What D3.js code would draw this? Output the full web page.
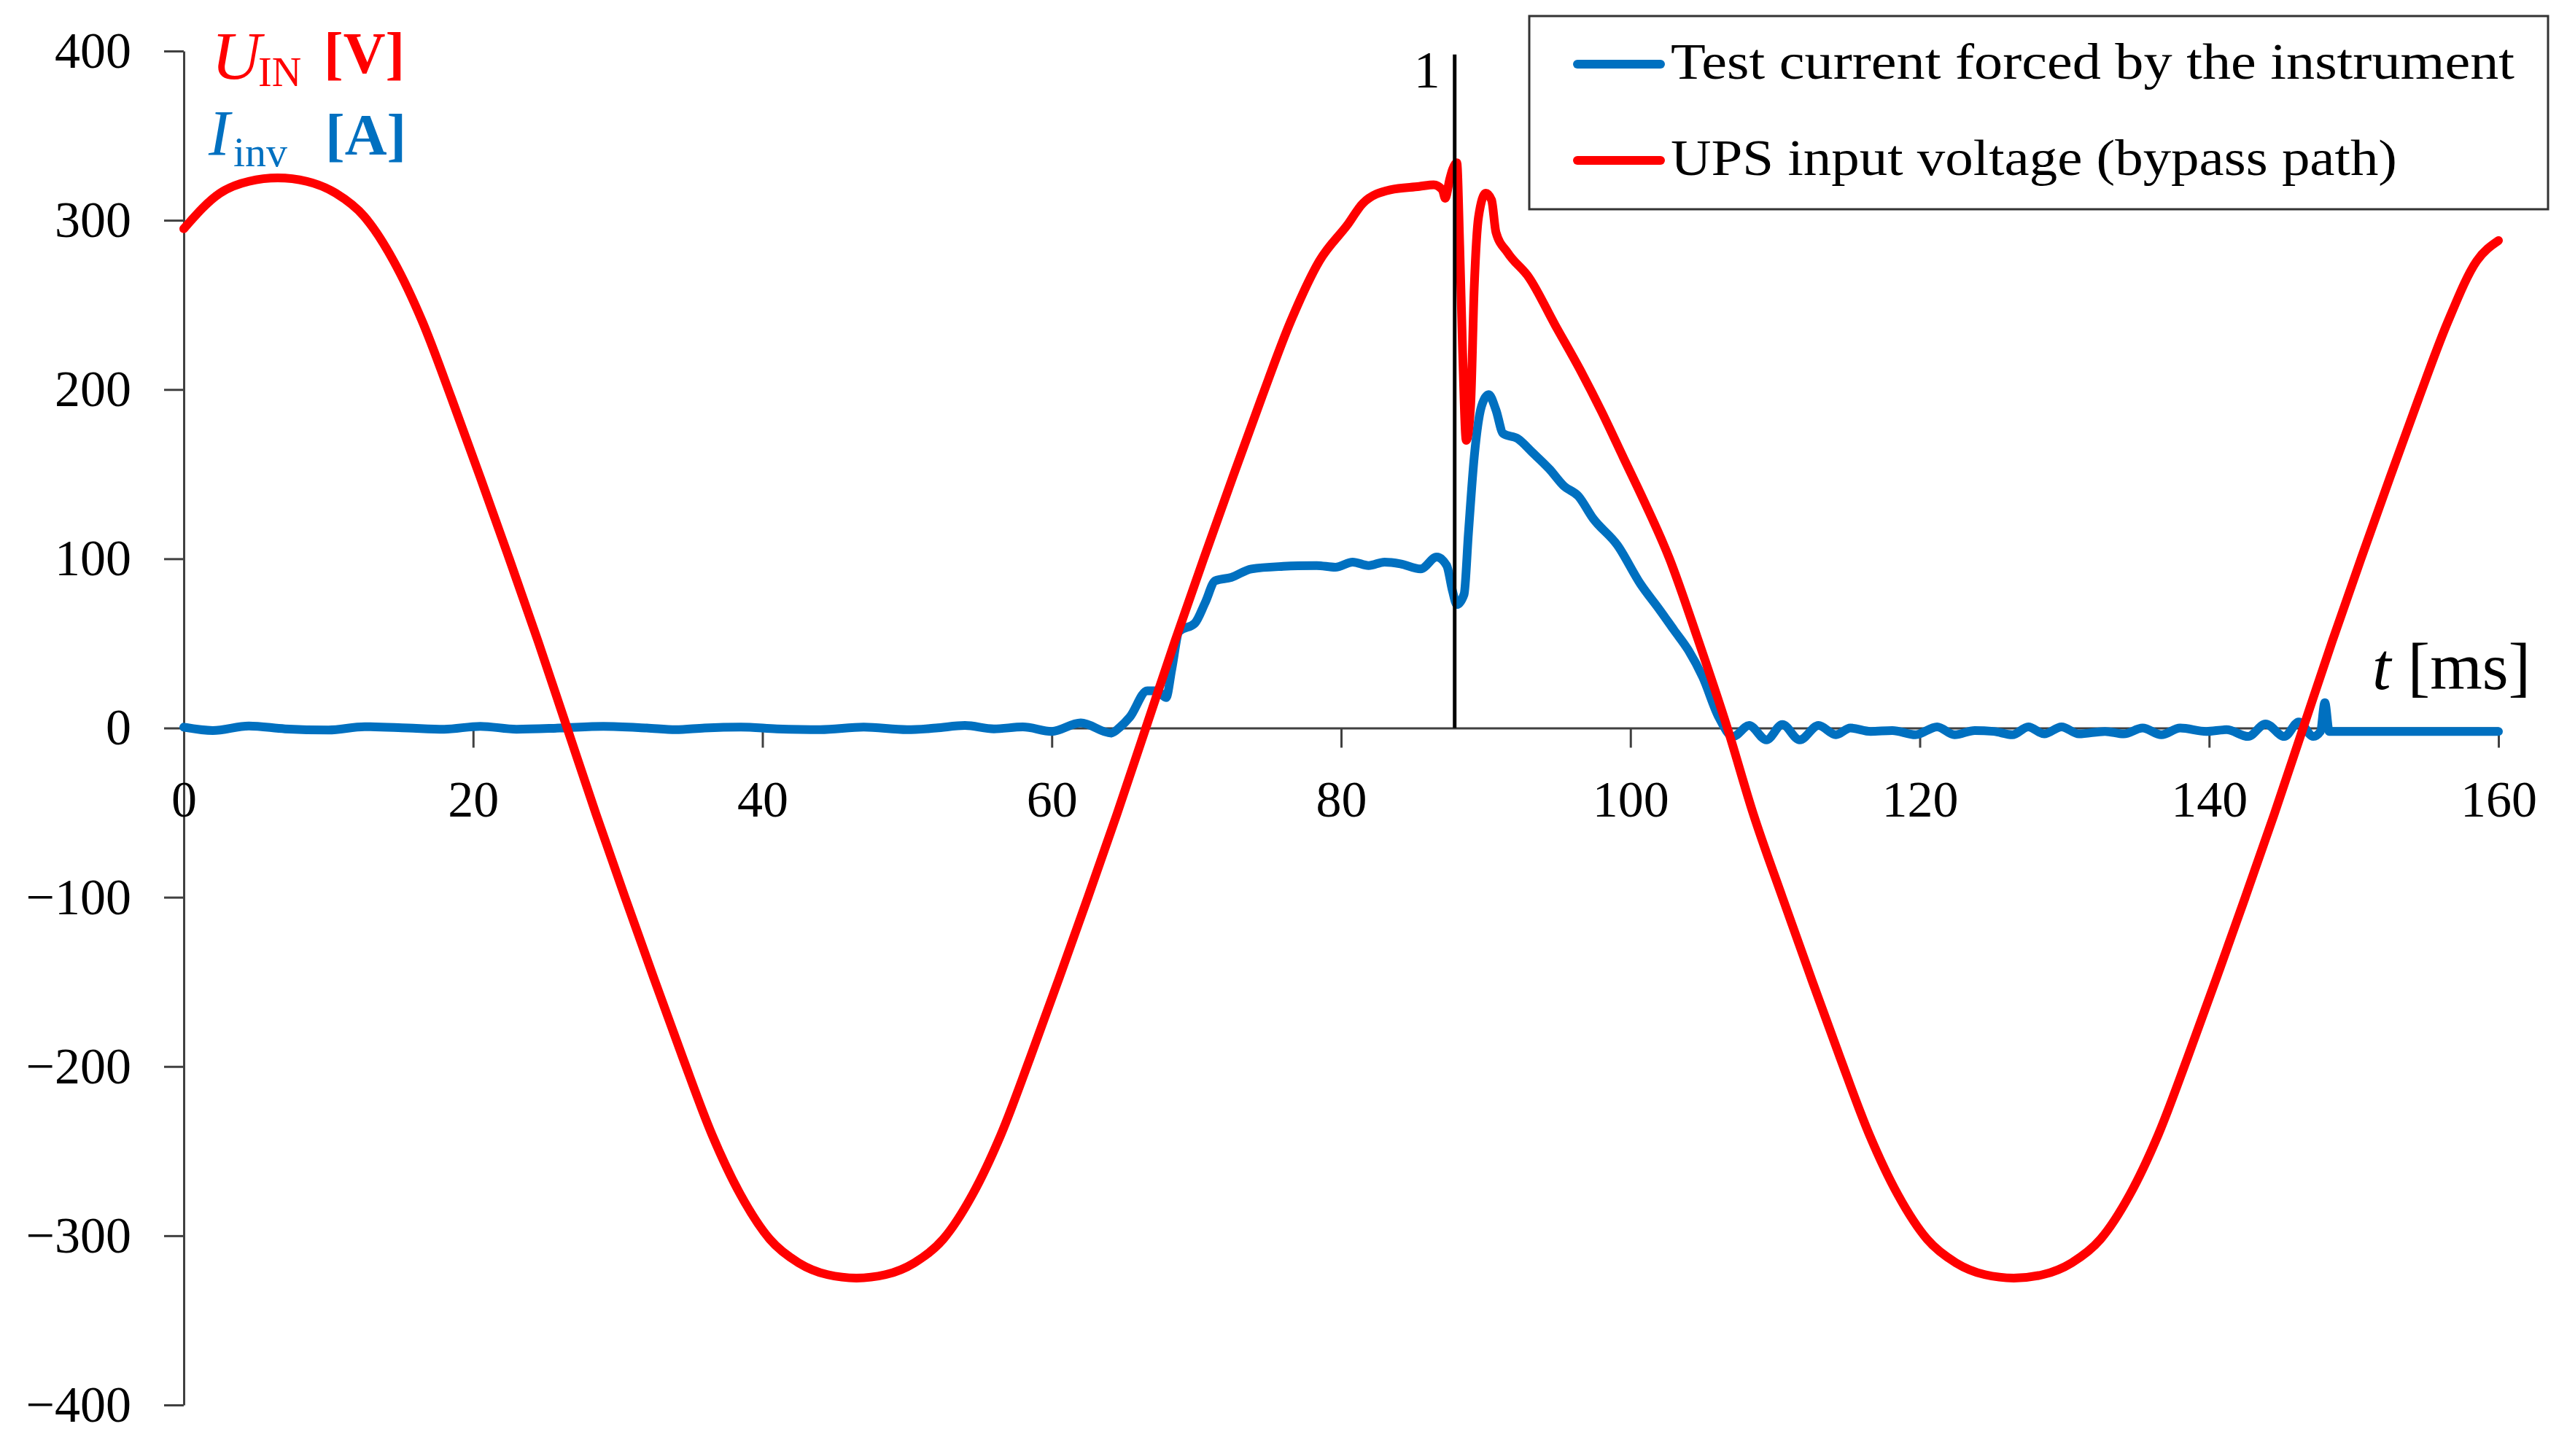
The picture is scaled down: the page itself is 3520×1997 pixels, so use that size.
<!DOCTYPE html>
<html>
<head>
<meta charset="utf-8">
<script src="https://cdn.jsdelivr.net/npm/d3@7"></script>
<style>
  html, body { margin: 0; padding: 0; background: #fff; }
  svg { display: block; }
  text { font-family: "Liberation Serif", "Times New Roman", serif; }
</style>
</head>
<body>
<svg id="chart" width="3520" height="1997"></svg>
<script>
// ---------------- data ----------------
// UPS input voltage U_IN [V]
const uinT = [0, 2.5, 4.5, 6.5, 8.5, 10.5, 12.5, 14.5, 16.5, 18.5, 20.5, 22.5, 24.5, 26.5, 28.5, 30.5,
  32.5, 34.5, 36.5, 38.5, 40.5, 42.5, 44.5, 46.5, 48.5, 50.5, 52.5, 54.5, 56.5, 58.5, 60.5, 62.5, 64.5,
  66.5, 68.5, 70.5, 72.5, 74.5, 76.5, 78.5, 80.5, 81.5, 83.4, 85.4, 86.4, 87.0, 87.2, 87.5, 87.7, 88.0,
  88.2, 88.4, 88.65, 88.95, 89.2, 89.5, 90.0, 90.4, 90.7, 91.5, 93.0, 94.8, 96.5, 98.0, 99.5,
  101.0, 102.7, 104.6, 106.7, 108.5, 110.5, 112.5, 114.5, 116.5, 118.5, 120.5, 122.5, 124.5, 126.5,
  128.5, 130.5, 132.5, 134.5, 136.5, 138.5, 140.5, 142.5, 144.5, 146.5, 148.5, 150.5, 152.5, 154.5,
  156.5, 158.5, 160];
const uinV = [295, 316, 323, 325, 323, 316, 302, 276, 240, 195, 148, 100, 51, 0, -51, -100,
  -148, -195, -240, -276, -302, -316, -323, -325, -323, -316, -302, -276, -240, -195, -148, -100, -51,
  0, 51, 100, 148, 195, 240, 276, 298, 310, 318, 320, 321, 318, 313, 324, 330, 334,
  285, 222, 170, 190, 260, 302, 316, 312, 293, 281, 266, 238, 212, 187, 160,
  133, 100, 54, 0, -51, -100, -148, -195, -240, -276, -302, -316, -323, -325,
  -323, -316, -302, -276, -240, -195, -148, -100, -51, 0, 51, 100, 148, 195,
  240, 276, 288];

// Test current forced by the instrument I_inv [A]
const invT = [0, 2, 4.5, 7, 10, 12.5, 15.5, 18, 20.5, 23, 26, 29, 32, 34, 36, 38.5, 41, 44, 47, 50, 52,
  54, 56, 58, 60, 62, 64.1, 64.7, 65.4, 66.6, 67.3, 67.9, 68.3, 68.8, 69.9, 70.6, 71.3, 72.4, 73.8, 76,
  78.3, 79.6, 80.8, 81.9, 83, 84.1, 85.5, 86.6, 87.3, 87.7, 88.0, 88.5, 88.8, 89.2, 89.7, 90.2, 90.7,
  91.2, 92.2, 93.2, 94.4, 95.4, 96.4, 97.4, 99.1, 100.7, 102, 103, 104, 105, 106.1, 107.1, 108.2, 109.4,
  110.5, 111.7, 113, 114.2, 115.2, 116.6, 118.1, 119.7, 121.2, 122.4, 123.8, 125.1, 126.4, 127.5, 128.6,
  129.8, 131, 132.8, 134.1, 135.4, 136.7, 138, 139.8, 141.2, 142.7, 143.9, 145.2, 146.2, 147.2, 147.7,
  148.0, 148.3, 149, 160];
const invV = [0.5, -1.5, 1.2, -0.5, -1.2, 0.8, 0, -0.7, 1, -0.7, 0, 1, 0, -1, 0, 0.5, -0.5, -1, 0.5, -1, 0,
  1.5, -0.5, 0.6, -2, 3, -3, 0.4, 6.5, 22, 22, 18, 35, 57, 62, 74, 87, 89, 94, 95.5,
  96, 95, 98, 96, 98, 97, 94, 101, 96, 81, 73, 79, 115, 160, 190, 197, 188,
  174, 171, 163, 153, 143, 137, 124, 108, 85, 70, 58, 46, 30, 6.5, -5, 1.5, -7,
  2, -7, 1.5, -4, 0, -2, -1.5, -4, 0.7, -4, -1.5, -2, -4, 0.7, -3.5,
  0.7, -3.5, -2, -3.5, 0, -4, 0, -2, -1, -5, 2.4, -5, 3.6, -5, -2,
  15, -2, -2, -2];

// Axis ticks
const xTicks = [0, 20, 40, 60, 80, 100, 120, 140, 160];
const yTicks = [-400, -300, -200, -100, 0, 100, 200, 300, 400];

// Event marker "1"
const markerT = 87.85;
const markerTop = 398;
const markerLabel = "1";

// Legend
const legendLabels = ["Test current forced by the instrument", "UPS input voltage (bypass path)"];
const seriesColors = ["#0070C0", "#FF0000"];

// ---------------- drawing ----------------
const svg = d3.select("#chart");
svg.append("rect").attr("width", 3520).attr("height", 1997).attr("fill", "#fff");

const x = d3.scaleLinear().domain([0, 160]).range([252, 3426]);
const y = d3.scaleLinear().domain([-400, 400]).range([1927, 70]);

const fmt = d => d < 0 ? "\u2212" + Math.abs(d) : String(d);

// Y axis
const gy = svg.append("g")
  .attr("transform", `translate(${x(0)},0)`)
  .call(d3.axisLeft(y).tickValues(yTicks).tickSize(27).tickSizeOuter(0).tickPadding(45).tickFormat(fmt));
// X axis at y = 0
const gx = svg.append("g")
  .attr("transform", `translate(0,${y(0)})`)
  .call(d3.axisBottom(x).tickValues(xTicks).tickSize(27).tickSizeOuter(0).tickPadding(45).tickFormat(fmt));

[gx, gy].forEach(g => {
  g.select(".domain").attr("stroke", "#404040").attr("stroke-width", 3);
  g.selectAll(".tick line").attr("stroke", "#404040").attr("stroke-width", 3);
  g.selectAll(".tick text")
    .attr("fill", "#000")
    .style("font-family", '"Liberation Serif", "Times New Roman", serif')
    .style("font-size", "70px");
});

// Series
const line = d3.line().curve(d3.curveMonotoneX);
const invPts = invT.map((t, i) => [x(t), y(invV[i])]);
const uinPts = uinT.map((t, i) => [x(t), y(uinV[i])]);

svg.append("path").attr("d", line(invPts))
  .attr("fill", "none").attr("stroke", seriesColors[0]).attr("stroke-width", 12)
  .attr("stroke-linejoin", "round").attr("stroke-linecap", "round");
svg.append("path").attr("d", line(uinPts))
  .attr("fill", "none").attr("stroke", seriesColors[1]).attr("stroke-width", 12)
  .attr("stroke-linejoin", "round").attr("stroke-linecap", "round");

// Marker line
svg.append("line")
  .attr("x1", x(markerT)).attr("x2", x(markerT))
  .attr("y1", y(markerTop)).attr("y2", y(0))
  .attr("stroke", "#000").attr("stroke-width", 5);
svg.append("text")
  .attr("x", x(markerT) - 20).attr("y", 120)
  .attr("text-anchor", "end")
  .style("font-size", "72px").attr("fill", "#000")
  .text(markerLabel);

// Y axis titles
svg.append("text").attr("x", 290).attr("y", 108).attr("fill", "#FF0000")
  .style("font-size", "94px").style("font-style", "italic").text("U");
svg.append("text").attr("x", 354).attr("y", 118).attr("fill", "#FF0000")
  .style("font-size", "56px").text("IN");
svg.append("text").attr("x", 444).attr("y", 100).attr("fill", "#FF0000")
  .style("font-size", "80px").style("font-weight", "bold").text("[V]");

svg.append("text").attr("x", 286).attr("y", 212).attr("fill", "#0070C0")
  .style("font-size", "88px").style("font-style", "italic").text("I");
svg.append("text").attr("x", 320).attr("y", 228).attr("fill", "#0070C0")
  .style("font-size", "58px").text("inv");
svg.append("text").attr("x", 446).attr("y", 212).attr("fill", "#0070C0")
  .style("font-size", "80px").style("font-weight", "bold").text("[A]");

// X axis title
const xt = svg.append("text").attr("x", 3253).attr("y", 945).attr("fill", "#000").style("font-size", "92px");
xt.append("tspan").style("font-style", "italic").text("t");
xt.append("tspan").text(" [ms]");

// Legend
const lg = svg.append("g");
lg.append("rect").attr("x", 2097).attr("y", 22).attr("width", 1397).attr("height", 265)
  .attr("fill", "#fff").attr("stroke", "#333").attr("stroke-width", 3);
const legendY = [88, 220];
const legendBase = [108, 240];
const legendLen = [1157, 996];
legendLabels.forEach((lab, i) => {
  lg.append("line").attr("x1", 2163).attr("x2", 2277).attr("y1", legendY[i]).attr("y2", legendY[i])
    .attr("stroke", seriesColors[i]).attr("stroke-width", 12).attr("stroke-linecap", "round");
  lg.append("text").attr("x", 2291).attr("y", legendBase[i]).attr("fill", "#000")
    .style("font-size", "70px")
    .attr("textLength", legendLen[i]).attr("lengthAdjust", "spacingAndGlyphs")
    .text(lab);
});
</script>
</body>
</html>
